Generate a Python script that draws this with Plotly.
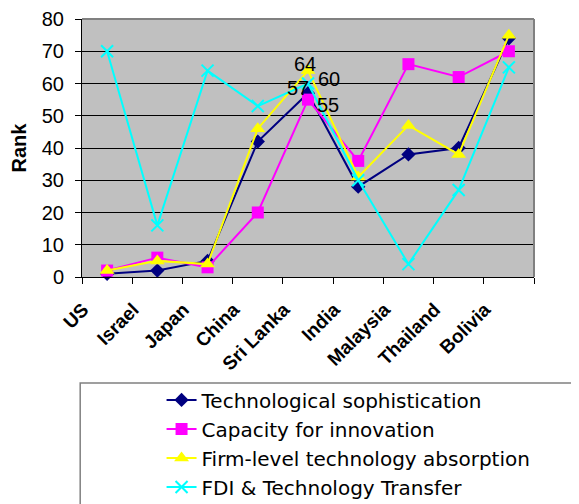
import plotly.graph_objects as go

countries = ["US", "Israel", "Japan", "China", "Sri Lanka", "India", "Malaysia", "Thailand", "Bolivia"]
tech_soph = [1, 2, 5, 42, 57, 28, 38, 40, 74]
capacity_innov = [2, 6, 3, 20, 55, 36, 66, 62, 70]
firm_absorb = [2, 5, 4, 46, 64, 31, 47, 38, 75]
fdi_transfer = [70, 16, 64, 53, 60, 30, 4, 27, 65]
labelled_country = "Sri Lanka"
y_ticks = [0, 10, 20, 30, 40, 50, 60, 70, 80]

FONT = "Liberation Sans, Arial, sans-serif"
LEGFONT = "DejaVu Sans, sans-serif"
lbl_idx = countries.index(labelled_country)

series = [
    ("Technological sophistication", tech_soph, "#000080",
     dict(symbol="diamond", size=11, color="#000080"), (-10, 5)),
    ("Capacity for innovation", capacity_innov, "#FF00FF",
     dict(symbol="square", size=12, color="#FF00FF"), (20, -5)),
    ("Firm-level technology absorption", firm_absorb, "#FFFF00",
     dict(symbol="triangle-up", size=13, color="#FFFF00"), (-3, 7)),
    ("FDI & Technology Transfer", fdi_transfer, "#00FFFF",
     dict(symbol="x-thin", size=12, color="#00FFFF", line=dict(color="#00FFFF", width=2)), (21, 5)),
]

fig = go.Figure()
annotations = []
for i, (name, vals, col, mk, (dx, dy)) in enumerate(series):
    fig.add_trace(go.Scatter(
        x=countries, y=vals, name=name, mode="lines+markers",
        line=dict(color=col, width=2), marker=mk, cliponaxis=False,
    ))
    annotations.append(dict(
        x=countries[lbl_idx], y=vals[lbl_idx], text=str(vals[lbl_idx]),
        xref="x", yref="y", showarrow=False, xshift=dx, yshift=dy,
        font=dict(family=FONT, size=20, color="black"),
    ))

fig.update_layout(
    width=579, height=504,
    margin=dict(l=74, r=53, t=11, b=235, autoexpand=False),
    paper_bgcolor="white", plot_bgcolor="#C0C0C0",
    font=dict(family=FONT, color="black"),
    annotations=annotations,
    legend=dict(
        x=0.176, y=0.261, xanchor="left", yanchor="top", xref="paper", yref="container",
        font=dict(family=LEGFONT, size=20, color="black"),
        bgcolor="rgba(0,0,0,0)",
        itemwidth=30,
    ),
    xaxis=dict(
        type="category", range=[-0.5, 8.5], showgrid=False,
        showline=True, linecolor="black", linewidth=1,
        ticks="outside", tickson="boundaries", ticklen=6, tickcolor="black",
        tickangle=-45, ticklabelshift=-24, ticklabelstandoff=13,
        tickfont=dict(family=FONT, size=19, color="black", weight="bold"),
    ),
    yaxis=dict(
        range=[0, 80], tickvals=y_ticks, showgrid=True, gridcolor="black", gridwidth=1,
        zeroline=False, showline=True, linecolor="black", linewidth=1,
        ticks="outside", ticklen=6, tickcolor="black", ticklabelstandoff=7,
        tickfont=dict(family=FONT, size=20, color="black"),
        title=dict(text="<b>Rank</b>", font=dict(family=FONT, size=20, color="black"), standoff=12),
    ),
    shapes=[
        dict(type="line", xref="paper", yref="paper", x0=0, x1=1, y0=1, y1=1,
             line=dict(color="#808080", width=2)),
        dict(type="line", xref="paper", yref="paper", x0=1, x1=1, y0=0, y1=1,
             line=dict(color="#808080", width=2)),
        dict(type="rect", xref="paper", yref="paper", x0=-0.004, x1=1.3, y0=-0.411, y1=-1.2,
             line=dict(color="#808080", width=1.5), fillcolor="rgba(0,0,0,0)"),
    ],
)

fig.write_html("out.html")
